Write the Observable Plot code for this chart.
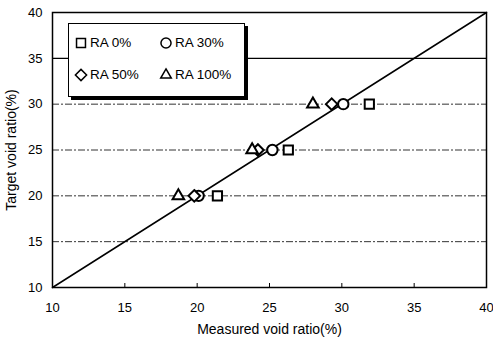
<!DOCTYPE html>
<html><head><meta charset="utf-8">
<script src="https://cdn.jsdelivr.net/npm/d3@7"></script>
<script src="https://cdn.jsdelivr.net/npm/@observablehq/plot@0.6"></script>
<style>
body{margin:0;background:#fff;font-family:"Liberation Sans",Arial,sans-serif;}
#wrap{position:relative;width:493px;height:341px;}
#legend{position:absolute;left:68px;top:23px;width:175px;height:72px;border:1.5px solid #000;background:#fff;box-shadow:3px 3px 0 #000;font-size:13.5px;}
.it{position:absolute;display:flex;align-items:center;gap:3px;}
.it svg{overflow:visible}
</style></head>
<body><div id="wrap"><div id="legend"></div></div>
<script>
const series = ["RA 0%", "RA 30%", "RA 50%", "RA 100%"];
const targets = [20, 25, 30];
const ra0 = [21.4, 26.3, 31.9];
const ra30 = [20.1, 25.2, 30.1];
const ra50 = [19.8, 24.2, 29.3];
const ra100 = [18.7, 23.8, 28.0];
const xTicks = [10, 15, 20, 25, 30, 35, 40];
const yTicks = [10, 15, 20, 25, 30, 35, 40];
const gridDashed = [15, 20, 25, 30];
const gridSolid = [35];
const diagonal = [{x: 10, y: 10}, {x: 40, y: 40}];
const symbols = ["square", "circle", "diamond2", "triangle"];

const all = [ra0, ra30, ra50, ra100];
const data = [];
series.forEach((s, i) => targets.forEach((t, j) => data.push({series: s, x: all[i][j], y: t})));

const chart = Plot.plot({
  width: 493, height: 341,
  marginLeft: 52, marginRight: 7, marginTop: 12, marginBottom: 54,
  style: {fontFamily: '"Liberation Sans",Arial,sans-serif', fontSize: "13px", color: "#000", background: "#fff"},
  x: {domain: [10, 40], ticks: xTicks},
  y: {domain: [10, 40], ticks: yTicks},
  r: {type: "identity"},
  symbol: {domain: series, range: symbols},
  marks: [
    Plot.ruleY(gridDashed, {stroke: "#333", strokeWidth: 1, strokeDasharray: "7,2,2,2"}),
    Plot.ruleY(gridSolid, {stroke: "#000", strokeWidth: 1.2}),
    Plot.frame({stroke: "#000", strokeWidth: 1.5}),
    Plot.axisX({ticks: xTicks, tickSize: -4, tickPadding: 19, fontSize: 13, label: null}),
    Plot.axisX({ticks: [], label: "Measured void ratio(%)", labelAnchor: "center", labelOffset: 46, labelArrow: "none", fontSize: 14}),
    Plot.axisY({ticks: yTicks, tickSize: 0, tickPadding: 10, fontSize: 13, label: null}),
    Plot.axisY({ticks: [], label: "Target void ratio(%)", labelAnchor: "center", labelOffset: 46, labelArrow: "none", fontSize: 14}),
    Plot.line(diagonal, {x: "x", y: "y", stroke: "#000", strokeWidth: 1.5}),
    Plot.dot(data, {x: "x", y: "y", symbol: "series", r: d => d.series === "RA 100%" ? 4.3 : 5.2, fill: "#fff", stroke: "#000", strokeWidth: 2})
  ]
});
document.getElementById("wrap").prepend(chart);

// legend
const lg = document.getElementById("legend");
const pos = [[6, 11], [91, 11], [6, 43], [91, 43]];
const sym = {square: d3.symbolSquare, circle: d3.symbolCircle, diamond2: d3.symbolDiamond2, triangle: d3.symbolTriangle2};
series.forEach((s, i) => {
  const el = document.createElement("div");
  el.className = "it";
  el.style.left = pos[i][0] + "px"; el.style.top = pos[i][1] + "px";
  const p = d3.symbol(sym[symbols[i]], 80)();
  el.innerHTML = `<svg width="12" height="12" viewBox="-6 -6 12 12"><path d="${p}" fill="#fff" stroke="#000" stroke-width="1.5"/></svg><span>${s}</span>`;
  lg.appendChild(el);
});
</script></body></html>
